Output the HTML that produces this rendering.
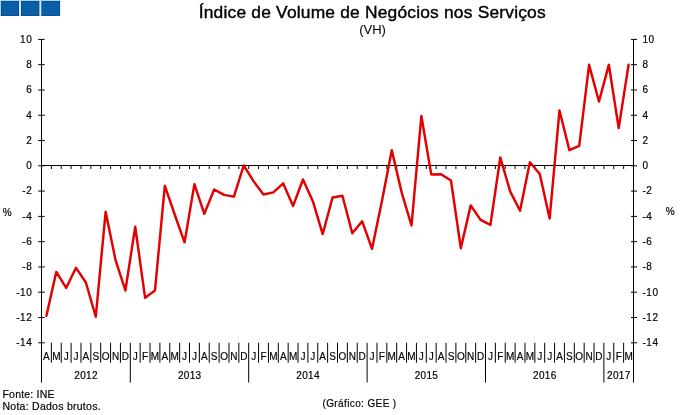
<!DOCTYPE html><html><head><meta charset="utf-8"><style>html,body{margin:0;padding:0;background:#fff;}svg{display:block;will-change:transform;}text{font-family:"Liberation Sans", sans-serif;fill:#000;stroke:#000;stroke-width:0.18px;}</style></head><body>
<svg width="680" height="415" viewBox="0 0 680 415">
<rect x="0" y="0" width="60.3" height="16" fill="#a9d3f0"/>
<rect x="19" y="1" width="2" height="15" fill="#d2ebfa"/>
<rect x="39.3" y="1" width="2" height="15" fill="#d2ebfa"/>
<rect x="1.0" y="1" width="18.0" height="15" fill="#08467f"/>
<rect x="1.6" y="1.6" width="16.8" height="13.8" fill="#0b5ea8"/>
<rect x="21.0" y="1" width="18.3" height="15" fill="#08467f"/>
<rect x="21.6" y="1.6" width="17.1" height="13.8" fill="#0b5ea8"/>
<rect x="41.4" y="1" width="18.6" height="15" fill="#08467f"/>
<rect x="42.0" y="1.6" width="17.4" height="13.8" fill="#0b5ea8"/>
<text x="372.3" y="18" font-size="17.4" letter-spacing="0.19" text-anchor="middle" style="stroke-width:0.4px">Índice de Volume de Negócios nos Serviços</text>
<text x="372.6" y="34.2" font-size="13" text-anchor="middle" style="stroke-width:0.05px">(VH)</text>
<g stroke="#000" stroke-width="1" fill="none" shape-rendering="auto">
<line x1="41.50" y1="39.40" x2="41.50" y2="382.5"/>
<line x1="633.50" y1="39.40" x2="633.50" y2="382.5"/>
<line x1="38.20" y1="39.40" x2="44.70" y2="39.40"/>
<line x1="631.00" y1="39.40" x2="637.00" y2="39.40"/>
<line x1="38.20" y1="64.68" x2="44.70" y2="64.68"/>
<line x1="631.00" y1="64.68" x2="637.00" y2="64.68"/>
<line x1="38.20" y1="89.97" x2="44.70" y2="89.97"/>
<line x1="631.00" y1="89.97" x2="637.00" y2="89.97"/>
<line x1="38.20" y1="115.25" x2="44.70" y2="115.25"/>
<line x1="631.00" y1="115.25" x2="637.00" y2="115.25"/>
<line x1="38.20" y1="140.53" x2="44.70" y2="140.53"/>
<line x1="631.00" y1="140.53" x2="637.00" y2="140.53"/>
<line x1="38.20" y1="165.82" x2="44.70" y2="165.82"/>
<line x1="631.00" y1="165.82" x2="637.00" y2="165.82"/>
<line x1="38.20" y1="191.10" x2="44.70" y2="191.10"/>
<line x1="631.00" y1="191.10" x2="637.00" y2="191.10"/>
<line x1="38.20" y1="216.38" x2="44.70" y2="216.38"/>
<line x1="631.00" y1="216.38" x2="637.00" y2="216.38"/>
<line x1="38.20" y1="241.67" x2="44.70" y2="241.67"/>
<line x1="631.00" y1="241.67" x2="637.00" y2="241.67"/>
<line x1="38.20" y1="266.95" x2="44.70" y2="266.95"/>
<line x1="631.00" y1="266.95" x2="637.00" y2="266.95"/>
<line x1="38.20" y1="292.23" x2="44.70" y2="292.23"/>
<line x1="631.00" y1="292.23" x2="637.00" y2="292.23"/>
<line x1="38.20" y1="317.52" x2="44.70" y2="317.52"/>
<line x1="631.00" y1="317.52" x2="637.00" y2="317.52"/>
<line x1="38.20" y1="342.80" x2="44.70" y2="342.80"/>
<line x1="631.00" y1="342.80" x2="637.00" y2="342.80"/>
<line x1="41.50" y1="165.50" x2="633.50" y2="165.50"/>
<line x1="51.37" y1="165.50" x2="51.37" y2="169.00"/>
<line x1="61.23" y1="165.50" x2="61.23" y2="169.00"/>
<line x1="71.10" y1="165.50" x2="71.10" y2="169.00"/>
<line x1="80.97" y1="165.50" x2="80.97" y2="169.00"/>
<line x1="90.83" y1="165.50" x2="90.83" y2="169.00"/>
<line x1="100.70" y1="165.50" x2="100.70" y2="169.00"/>
<line x1="110.57" y1="165.50" x2="110.57" y2="169.00"/>
<line x1="120.43" y1="165.50" x2="120.43" y2="169.00"/>
<line x1="130.30" y1="165.50" x2="130.30" y2="169.00"/>
<line x1="140.17" y1="165.50" x2="140.17" y2="169.00"/>
<line x1="150.03" y1="165.50" x2="150.03" y2="169.00"/>
<line x1="159.90" y1="165.50" x2="159.90" y2="169.00"/>
<line x1="169.77" y1="165.50" x2="169.77" y2="169.00"/>
<line x1="179.63" y1="165.50" x2="179.63" y2="169.00"/>
<line x1="189.50" y1="165.50" x2="189.50" y2="169.00"/>
<line x1="199.37" y1="165.50" x2="199.37" y2="169.00"/>
<line x1="209.23" y1="165.50" x2="209.23" y2="169.00"/>
<line x1="219.10" y1="165.50" x2="219.10" y2="169.00"/>
<line x1="228.97" y1="165.50" x2="228.97" y2="169.00"/>
<line x1="238.83" y1="165.50" x2="238.83" y2="169.00"/>
<line x1="248.70" y1="165.50" x2="248.70" y2="169.00"/>
<line x1="258.57" y1="165.50" x2="258.57" y2="169.00"/>
<line x1="268.43" y1="165.50" x2="268.43" y2="169.00"/>
<line x1="278.30" y1="165.50" x2="278.30" y2="169.00"/>
<line x1="288.17" y1="165.50" x2="288.17" y2="169.00"/>
<line x1="298.03" y1="165.50" x2="298.03" y2="169.00"/>
<line x1="307.90" y1="165.50" x2="307.90" y2="169.00"/>
<line x1="317.77" y1="165.50" x2="317.77" y2="169.00"/>
<line x1="327.63" y1="165.50" x2="327.63" y2="169.00"/>
<line x1="337.50" y1="165.50" x2="337.50" y2="169.00"/>
<line x1="347.37" y1="165.50" x2="347.37" y2="169.00"/>
<line x1="357.23" y1="165.50" x2="357.23" y2="169.00"/>
<line x1="367.10" y1="165.50" x2="367.10" y2="169.00"/>
<line x1="376.97" y1="165.50" x2="376.97" y2="169.00"/>
<line x1="386.83" y1="165.50" x2="386.83" y2="169.00"/>
<line x1="396.70" y1="165.50" x2="396.70" y2="169.00"/>
<line x1="406.57" y1="165.50" x2="406.57" y2="169.00"/>
<line x1="416.43" y1="165.50" x2="416.43" y2="169.00"/>
<line x1="426.30" y1="165.50" x2="426.30" y2="169.00"/>
<line x1="436.17" y1="165.50" x2="436.17" y2="169.00"/>
<line x1="446.03" y1="165.50" x2="446.03" y2="169.00"/>
<line x1="455.90" y1="165.50" x2="455.90" y2="169.00"/>
<line x1="465.77" y1="165.50" x2="465.77" y2="169.00"/>
<line x1="475.63" y1="165.50" x2="475.63" y2="169.00"/>
<line x1="485.50" y1="165.50" x2="485.50" y2="169.00"/>
<line x1="495.37" y1="165.50" x2="495.37" y2="169.00"/>
<line x1="505.23" y1="165.50" x2="505.23" y2="169.00"/>
<line x1="515.10" y1="165.50" x2="515.10" y2="169.00"/>
<line x1="524.97" y1="165.50" x2="524.97" y2="169.00"/>
<line x1="534.83" y1="165.50" x2="534.83" y2="169.00"/>
<line x1="544.70" y1="165.50" x2="544.70" y2="169.00"/>
<line x1="554.57" y1="165.50" x2="554.57" y2="169.00"/>
<line x1="564.43" y1="165.50" x2="564.43" y2="169.00"/>
<line x1="574.30" y1="165.50" x2="574.30" y2="169.00"/>
<line x1="584.17" y1="165.50" x2="584.17" y2="169.00"/>
<line x1="594.03" y1="165.50" x2="594.03" y2="169.00"/>
<line x1="603.90" y1="165.50" x2="603.90" y2="169.00"/>
<line x1="613.77" y1="165.50" x2="613.77" y2="169.00"/>
<line x1="623.63" y1="165.50" x2="623.63" y2="169.00"/>
<line x1="51.37" y1="342.80" x2="51.37" y2="362.8"/>
<line x1="61.23" y1="342.80" x2="61.23" y2="362.8"/>
<line x1="71.10" y1="342.80" x2="71.10" y2="362.8"/>
<line x1="80.97" y1="342.80" x2="80.97" y2="362.8"/>
<line x1="90.83" y1="342.80" x2="90.83" y2="362.8"/>
<line x1="100.70" y1="342.80" x2="100.70" y2="362.8"/>
<line x1="110.57" y1="342.80" x2="110.57" y2="362.8"/>
<line x1="120.43" y1="342.80" x2="120.43" y2="362.8"/>
<line x1="130.30" y1="342.80" x2="130.30" y2="382.5"/>
<line x1="140.17" y1="342.80" x2="140.17" y2="362.8"/>
<line x1="150.03" y1="342.80" x2="150.03" y2="362.8"/>
<line x1="159.90" y1="342.80" x2="159.90" y2="362.8"/>
<line x1="169.77" y1="342.80" x2="169.77" y2="362.8"/>
<line x1="179.63" y1="342.80" x2="179.63" y2="362.8"/>
<line x1="189.50" y1="342.80" x2="189.50" y2="362.8"/>
<line x1="199.37" y1="342.80" x2="199.37" y2="362.8"/>
<line x1="209.23" y1="342.80" x2="209.23" y2="362.8"/>
<line x1="219.10" y1="342.80" x2="219.10" y2="362.8"/>
<line x1="228.97" y1="342.80" x2="228.97" y2="362.8"/>
<line x1="238.83" y1="342.80" x2="238.83" y2="362.8"/>
<line x1="248.70" y1="342.80" x2="248.70" y2="382.5"/>
<line x1="258.57" y1="342.80" x2="258.57" y2="362.8"/>
<line x1="268.43" y1="342.80" x2="268.43" y2="362.8"/>
<line x1="278.30" y1="342.80" x2="278.30" y2="362.8"/>
<line x1="288.17" y1="342.80" x2="288.17" y2="362.8"/>
<line x1="298.03" y1="342.80" x2="298.03" y2="362.8"/>
<line x1="307.90" y1="342.80" x2="307.90" y2="362.8"/>
<line x1="317.77" y1="342.80" x2="317.77" y2="362.8"/>
<line x1="327.63" y1="342.80" x2="327.63" y2="362.8"/>
<line x1="337.50" y1="342.80" x2="337.50" y2="362.8"/>
<line x1="347.37" y1="342.80" x2="347.37" y2="362.8"/>
<line x1="357.23" y1="342.80" x2="357.23" y2="362.8"/>
<line x1="367.10" y1="342.80" x2="367.10" y2="382.5"/>
<line x1="376.97" y1="342.80" x2="376.97" y2="362.8"/>
<line x1="386.83" y1="342.80" x2="386.83" y2="362.8"/>
<line x1="396.70" y1="342.80" x2="396.70" y2="362.8"/>
<line x1="406.57" y1="342.80" x2="406.57" y2="362.8"/>
<line x1="416.43" y1="342.80" x2="416.43" y2="362.8"/>
<line x1="426.30" y1="342.80" x2="426.30" y2="362.8"/>
<line x1="436.17" y1="342.80" x2="436.17" y2="362.8"/>
<line x1="446.03" y1="342.80" x2="446.03" y2="362.8"/>
<line x1="455.90" y1="342.80" x2="455.90" y2="362.8"/>
<line x1="465.77" y1="342.80" x2="465.77" y2="362.8"/>
<line x1="475.63" y1="342.80" x2="475.63" y2="362.8"/>
<line x1="485.50" y1="342.80" x2="485.50" y2="382.5"/>
<line x1="495.37" y1="342.80" x2="495.37" y2="362.8"/>
<line x1="505.23" y1="342.80" x2="505.23" y2="362.8"/>
<line x1="515.10" y1="342.80" x2="515.10" y2="362.8"/>
<line x1="524.97" y1="342.80" x2="524.97" y2="362.8"/>
<line x1="534.83" y1="342.80" x2="534.83" y2="362.8"/>
<line x1="544.70" y1="342.80" x2="544.70" y2="362.8"/>
<line x1="554.57" y1="342.80" x2="554.57" y2="362.8"/>
<line x1="564.43" y1="342.80" x2="564.43" y2="362.8"/>
<line x1="574.30" y1="342.80" x2="574.30" y2="362.8"/>
<line x1="584.17" y1="342.80" x2="584.17" y2="362.8"/>
<line x1="594.03" y1="342.80" x2="594.03" y2="362.8"/>
<line x1="603.90" y1="342.80" x2="603.90" y2="382.5"/>
<line x1="613.77" y1="342.80" x2="613.77" y2="362.8"/>
<line x1="623.63" y1="342.80" x2="623.63" y2="362.8"/>
</g>
<text transform="translate(32.4 42.75) scale(1 1.1)" font-size="10" letter-spacing="0.6" text-anchor="end">10</text>
<text transform="translate(642.4 42.75) scale(1 1.1)" font-size="10" letter-spacing="0.6">10</text>
<text transform="translate(32.4 68.03) scale(1 1.1)" font-size="10" letter-spacing="0.6" text-anchor="end">8</text>
<text transform="translate(642.4 68.03) scale(1 1.1)" font-size="10" letter-spacing="0.6">8</text>
<text transform="translate(32.4 93.32) scale(1 1.1)" font-size="10" letter-spacing="0.6" text-anchor="end">6</text>
<text transform="translate(642.4 93.32) scale(1 1.1)" font-size="10" letter-spacing="0.6">6</text>
<text transform="translate(32.4 118.60) scale(1 1.1)" font-size="10" letter-spacing="0.6" text-anchor="end">4</text>
<text transform="translate(642.4 118.60) scale(1 1.1)" font-size="10" letter-spacing="0.6">4</text>
<text transform="translate(32.4 143.88) scale(1 1.1)" font-size="10" letter-spacing="0.6" text-anchor="end">2</text>
<text transform="translate(642.4 143.88) scale(1 1.1)" font-size="10" letter-spacing="0.6">2</text>
<text transform="translate(32.4 169.17) scale(1 1.1)" font-size="10" letter-spacing="0.6" text-anchor="end">0</text>
<text transform="translate(642.4 169.17) scale(1 1.1)" font-size="10" letter-spacing="0.6">0</text>
<text transform="translate(32.4 194.45) scale(1 1.1)" font-size="10" letter-spacing="0.6" text-anchor="end">-2</text>
<text transform="translate(642.4 194.45) scale(1 1.1)" font-size="10" letter-spacing="0.6">-2</text>
<text transform="translate(32.4 219.73) scale(1 1.1)" font-size="10" letter-spacing="0.6" text-anchor="end">-4</text>
<text transform="translate(642.4 219.73) scale(1 1.1)" font-size="10" letter-spacing="0.6">-4</text>
<text transform="translate(32.4 245.02) scale(1 1.1)" font-size="10" letter-spacing="0.6" text-anchor="end">-6</text>
<text transform="translate(642.4 245.02) scale(1 1.1)" font-size="10" letter-spacing="0.6">-6</text>
<text transform="translate(32.4 270.30) scale(1 1.1)" font-size="10" letter-spacing="0.6" text-anchor="end">-8</text>
<text transform="translate(642.4 270.30) scale(1 1.1)" font-size="10" letter-spacing="0.6">-8</text>
<text transform="translate(32.4 295.58) scale(1 1.1)" font-size="10" letter-spacing="0.6" text-anchor="end">-10</text>
<text transform="translate(642.4 295.58) scale(1 1.1)" font-size="10" letter-spacing="0.6">-10</text>
<text transform="translate(32.4 320.87) scale(1 1.1)" font-size="10" letter-spacing="0.6" text-anchor="end">-12</text>
<text transform="translate(642.4 320.87) scale(1 1.1)" font-size="10" letter-spacing="0.6">-12</text>
<text transform="translate(32.4 346.15) scale(1 1.1)" font-size="10" letter-spacing="0.6" text-anchor="end">-14</text>
<text transform="translate(642.4 346.15) scale(1 1.1)" font-size="10" letter-spacing="0.6">-14</text>
<text x="2.8" y="215.6" font-size="10">%</text>
<text x="665.8" y="215" font-size="10">%</text>
<text x="46.43" y="359.5" font-size="10" text-anchor="middle">A</text>
<text x="56.30" y="359.5" font-size="10" text-anchor="middle">M</text>
<text x="66.17" y="359.5" font-size="10" text-anchor="middle">J</text>
<text x="76.03" y="359.5" font-size="10" text-anchor="middle">J</text>
<text x="85.90" y="359.5" font-size="10" text-anchor="middle">A</text>
<text x="95.77" y="359.5" font-size="10" text-anchor="middle">S</text>
<text x="105.63" y="359.5" font-size="10" text-anchor="middle">O</text>
<text x="115.50" y="359.5" font-size="10" text-anchor="middle">N</text>
<text x="125.37" y="359.5" font-size="10" text-anchor="middle">D</text>
<text x="135.23" y="359.5" font-size="10" text-anchor="middle">J</text>
<text x="145.10" y="359.5" font-size="10" text-anchor="middle">F</text>
<text x="154.97" y="359.5" font-size="10" text-anchor="middle">M</text>
<text x="164.83" y="359.5" font-size="10" text-anchor="middle">A</text>
<text x="174.70" y="359.5" font-size="10" text-anchor="middle">M</text>
<text x="184.57" y="359.5" font-size="10" text-anchor="middle">J</text>
<text x="194.43" y="359.5" font-size="10" text-anchor="middle">J</text>
<text x="204.30" y="359.5" font-size="10" text-anchor="middle">A</text>
<text x="214.17" y="359.5" font-size="10" text-anchor="middle">S</text>
<text x="224.03" y="359.5" font-size="10" text-anchor="middle">O</text>
<text x="233.90" y="359.5" font-size="10" text-anchor="middle">N</text>
<text x="243.77" y="359.5" font-size="10" text-anchor="middle">D</text>
<text x="253.63" y="359.5" font-size="10" text-anchor="middle">J</text>
<text x="263.50" y="359.5" font-size="10" text-anchor="middle">F</text>
<text x="273.37" y="359.5" font-size="10" text-anchor="middle">M</text>
<text x="283.23" y="359.5" font-size="10" text-anchor="middle">A</text>
<text x="293.10" y="359.5" font-size="10" text-anchor="middle">M</text>
<text x="302.97" y="359.5" font-size="10" text-anchor="middle">J</text>
<text x="312.83" y="359.5" font-size="10" text-anchor="middle">J</text>
<text x="322.70" y="359.5" font-size="10" text-anchor="middle">A</text>
<text x="332.57" y="359.5" font-size="10" text-anchor="middle">S</text>
<text x="342.43" y="359.5" font-size="10" text-anchor="middle">O</text>
<text x="352.30" y="359.5" font-size="10" text-anchor="middle">N</text>
<text x="362.17" y="359.5" font-size="10" text-anchor="middle">D</text>
<text x="372.03" y="359.5" font-size="10" text-anchor="middle">J</text>
<text x="381.90" y="359.5" font-size="10" text-anchor="middle">F</text>
<text x="391.77" y="359.5" font-size="10" text-anchor="middle">M</text>
<text x="401.63" y="359.5" font-size="10" text-anchor="middle">A</text>
<text x="411.50" y="359.5" font-size="10" text-anchor="middle">M</text>
<text x="421.37" y="359.5" font-size="10" text-anchor="middle">J</text>
<text x="431.23" y="359.5" font-size="10" text-anchor="middle">J</text>
<text x="441.10" y="359.5" font-size="10" text-anchor="middle">A</text>
<text x="450.97" y="359.5" font-size="10" text-anchor="middle">S</text>
<text x="460.83" y="359.5" font-size="10" text-anchor="middle">O</text>
<text x="470.70" y="359.5" font-size="10" text-anchor="middle">N</text>
<text x="480.57" y="359.5" font-size="10" text-anchor="middle">D</text>
<text x="490.43" y="359.5" font-size="10" text-anchor="middle">J</text>
<text x="500.30" y="359.5" font-size="10" text-anchor="middle">F</text>
<text x="510.17" y="359.5" font-size="10" text-anchor="middle">M</text>
<text x="520.03" y="359.5" font-size="10" text-anchor="middle">A</text>
<text x="529.90" y="359.5" font-size="10" text-anchor="middle">M</text>
<text x="539.77" y="359.5" font-size="10" text-anchor="middle">J</text>
<text x="549.63" y="359.5" font-size="10" text-anchor="middle">J</text>
<text x="559.50" y="359.5" font-size="10" text-anchor="middle">A</text>
<text x="569.37" y="359.5" font-size="10" text-anchor="middle">S</text>
<text x="579.23" y="359.5" font-size="10" text-anchor="middle">O</text>
<text x="589.10" y="359.5" font-size="10" text-anchor="middle">N</text>
<text x="598.97" y="359.5" font-size="10" text-anchor="middle">D</text>
<text x="608.83" y="359.5" font-size="10" text-anchor="middle">J</text>
<text x="618.70" y="359.5" font-size="10" text-anchor="middle">F</text>
<text x="628.57" y="359.5" font-size="10" text-anchor="middle">M</text>
<text x="86.05" y="378.8" font-size="10" letter-spacing="0.3" text-anchor="middle">2012</text>
<text x="189.65" y="378.8" font-size="10" letter-spacing="0.3" text-anchor="middle">2013</text>
<text x="308.05" y="378.8" font-size="10" letter-spacing="0.3" text-anchor="middle">2014</text>
<text x="426.45" y="378.8" font-size="10" letter-spacing="0.3" text-anchor="middle">2015</text>
<text x="544.85" y="378.8" font-size="10" letter-spacing="0.3" text-anchor="middle">2016</text>
<text x="618.85" y="378.8" font-size="10" letter-spacing="0.3" text-anchor="middle">2017</text>
<polyline points="46.43,315.75 56.30,271.88 66.17,287.94 76.03,267.83 85.90,282.50 95.77,316.76 105.63,211.83 115.50,259.87 125.37,290.46 135.23,226.75 145.10,297.80 154.97,290.46 164.83,185.79 174.70,214.49 184.57,242.30 194.43,184.15 204.30,213.86 214.17,189.46 224.03,194.89 233.90,196.66 243.77,165.44 253.63,181.37 263.50,194.51 273.37,192.36 283.23,183.39 293.10,205.89 302.97,179.47 312.83,201.21 322.70,234.08 332.57,197.55 342.43,195.78 352.30,233.20 362.17,221.31 372.03,248.87 381.90,201.21 391.77,150.27 401.63,192.36 411.50,225.49 421.37,116.01 431.23,174.41 441.10,174.16 450.97,180.48 460.83,248.24 470.70,205.39 480.57,219.92 490.43,224.85 500.30,157.47 510.17,191.35 520.03,210.82 529.90,162.28 539.77,174.03 549.63,218.53 559.50,110.45 569.37,150.14 579.23,145.84 589.10,64.81 598.97,101.47 608.83,64.81 618.70,128.14 628.57,64.81" fill="none" stroke="#e20000" stroke-width="2.45" stroke-linejoin="round" stroke-linecap="round"/>
<text x="2.5" y="397.6" font-size="10.5" letter-spacing="0.2">Fonte: INE</text>
<text x="2.5" y="409.6" font-size="10.5" letter-spacing="0.26">Nota: Dados brutos.</text>
<text x="322.5" y="406.7" font-size="10" letter-spacing="0.38">(Gráfico: GEE )</text>
</svg></body></html>
